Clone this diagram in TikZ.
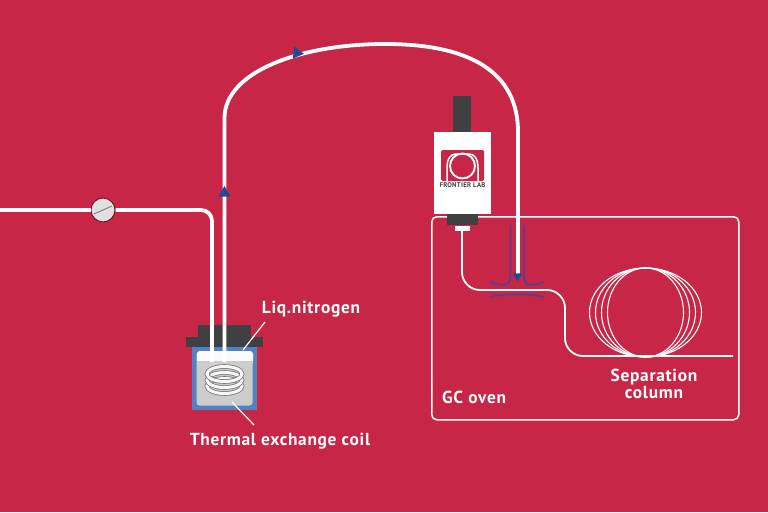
\documentclass[tikz,border=0pt]{standalone}
\usepackage{fontspec}
\setmainfont{PT Sans}[LetterSpace=4]
\usepackage{xcolor}
\usetikzlibrary{shapes.geometric,positioning,calc}
\definecolor{bgred}{RGB}{200,38,70}
\definecolor{lidgray}{RGB}{64,64,66}
\definecolor{vesselblue}{RGB}{82,130,196}
\definecolor{coilgray}{RGB}{204,204,204}
\definecolor{tipblue}{RGB}{30,75,150}
\definecolor{injblue}{RGB}{92,62,140}

\begin{document}
\begin{tikzpicture}[
    x=1pt, y=-1pt,
    pipe/.style={draw=white, line width=3.8pt},
    column/.style={draw=white, line width=1.8pt},
    solid box/.style={draw=none, minimum width=#1, inner sep=0pt, outer sep=0pt},
    label/.style={text=white, font=\bfseries\fontsize{17.4}{17}\selectfont, align=center, inner sep=0pt},
    lead/.style={draw=white, line width=1.2pt},
    tip/.style={regular polygon, regular polygon sides=3, fill=tipblue, minimum size=14pt, inner sep=0pt},
    inj/.style={draw=injblue, line width=1.8pt},
  ]
  \useasboundingbox (0,0) rectangle (768,512);
  \fill[bgred] (0,0) rectangle (768,512);

  % oven
  \node[draw=white, line width=1.5pt, rounded corners=5pt, minimum width=307pt, minimum height=203pt,
        inner sep=0pt, anchor=north west] (oven) at (431,216) {};
  \node[label, anchor=south west] (ovenlabel) at (442,404) {GC oven};

  % vessel
  \node[solid box=65pt, fill=vesselblue, minimum height=63pt, anchor=north west] (vessel) at (192,347) {};
  \node[solid box=56pt, fill=coilgray, minimum height=54pt, rounded corners=3pt] (bath) at (vessel.center) {};
  \fill[white!92!coilgray, rounded corners=3pt] (197,351) rectangle (253,364);
  \fill[coilgray] (197,361) rectangle (253,364);
  \node[solid box=77pt, fill=lidgray, minimum height=10pt, anchor=south] (lid) at (vessel.north) {};
  \node[solid box=53pt, fill=lidgray, minimum height=12pt, anchor=south] (cap) at (lid.north) {};

  % coil
  \foreach \cy in {386,380,374}
    {
      \draw[draw=lidgray!60!coilgray, line width=4.6pt] (224.5,\cy) ellipse (17.5pt and 7.5pt);
      \draw[draw=white!85!coilgray, line width=3pt] (224.5,\cy) ellipse (17.5pt and 7.5pt);
    }

  % transfer line
  \coordinate (inlet) at (0,210);
  \coordinate (coilin) at (212,362);
  \coordinate (coilout) at (224.5,362);
  \coordinate (looptop) at (385,44);
  \coordinate (needle) at (518,277);
  \node[circle, draw=bgred!60!black, fill=white!88!black, line width=1pt, minimum size=24pt, inner sep=0pt] (valve) at (103,210) {};
  \draw[pipe] (inlet) -- (valve);
  \draw[pipe, rounded corners=11pt] (valve) -| (coilin);
  \draw[pipe] (coilout) -- (224.5,118) .. controls (224.5,72) and (300,44) .. (looptop)
     .. controls (470,44) and (518,72) .. (518,132) -- (needle);
  \draw[lidgray!70, line width=0.9pt] (94,214) -- (112,206);
  \node[tip] (tipup) at (224.5,193) {};
  \node[tip, rotate=-97] (tipright) at (297,53) {};

  % injector
  \draw[inj] (510.5,225) -- (510.5,276) .. controls (510.5,287) and (503,286) .. (490,282);
  \draw[inj] (524,225) -- (524,276) .. controls (524,287) and (531,286) .. (544,282);
  \draw[inj] (490,297) .. controls (503,293.5) and (531,293.5) .. (544,297);
  \node[tip, rotate=180, minimum size=11pt] (tipdown) at (517.5,276) {};

  % column
  \coordinate (colstart) at (462,229);
  \coordinate (colend) at (733,356);
  \draw[column, rounded corners=18pt] (colstart) -- (462,290) -- (565,290) -- (565,356) -- (colend);
  \foreach \rx in {38,44,50,56}
    \draw[draw=white, line width=1.1pt] (645.5,312.5) ellipse (\rx pt and 44.5pt);
  \node[label] (collabel) at (654,383.5) {Separation\\[0pt]column};

  % furnace
  \node[solid box=18pt, fill=lidgray, minimum height=36pt, anchor=north] (stem) at (462,96) {};
  \node[solid box=57pt, fill=white, minimum height=82pt, anchor=north, below=0pt of stem] (furnace) {};
  \node[solid box=31pt, fill=lidgray, minimum height=11pt, below=0pt of furnace] (collar) {};
  \node[solid box=15pt, fill=white, minimum height=5.5pt, below=0.5pt of collar] (nozzle) {};
  \node[solid box=43pt, fill=bgred, minimum height=31pt, rounded corners=1.5pt, anchor=north] (logo) at (462.5,150) {};
  \draw[white, line width=1.5pt] (447,181) -- (447,168) .. controls (447,158) and (451,154) .. (456,154)
     -- (469,154) .. controls (474,154) and (478,158) .. (478,168) -- (478,181);
  \node[circle, draw=white, line width=1.9pt, minimum size=25pt, inner sep=0pt] (logoring) at (462.5,166) {};
  \node[inner sep=0pt, text=lidgray, font=\bfseries\fontsize{6.8}{8}\selectfont, below=1.5pt of logo] (logotext) {FRONTIER LAB};

  % labels
  \node[label] (liqlabel) at (311,309.5) {Liq.nitrogen};
  \node[label] (coillabel) at (280,441) {Thermal exchange coil};
  \coordinate (liqend) at (243,350);
  \coordinate (coilend) at (232,402);
  \draw[lead] (265,322) -- (liqend);
  \draw[lead] (254,425) -- (coilend);
\end{tikzpicture}
\end{document}
